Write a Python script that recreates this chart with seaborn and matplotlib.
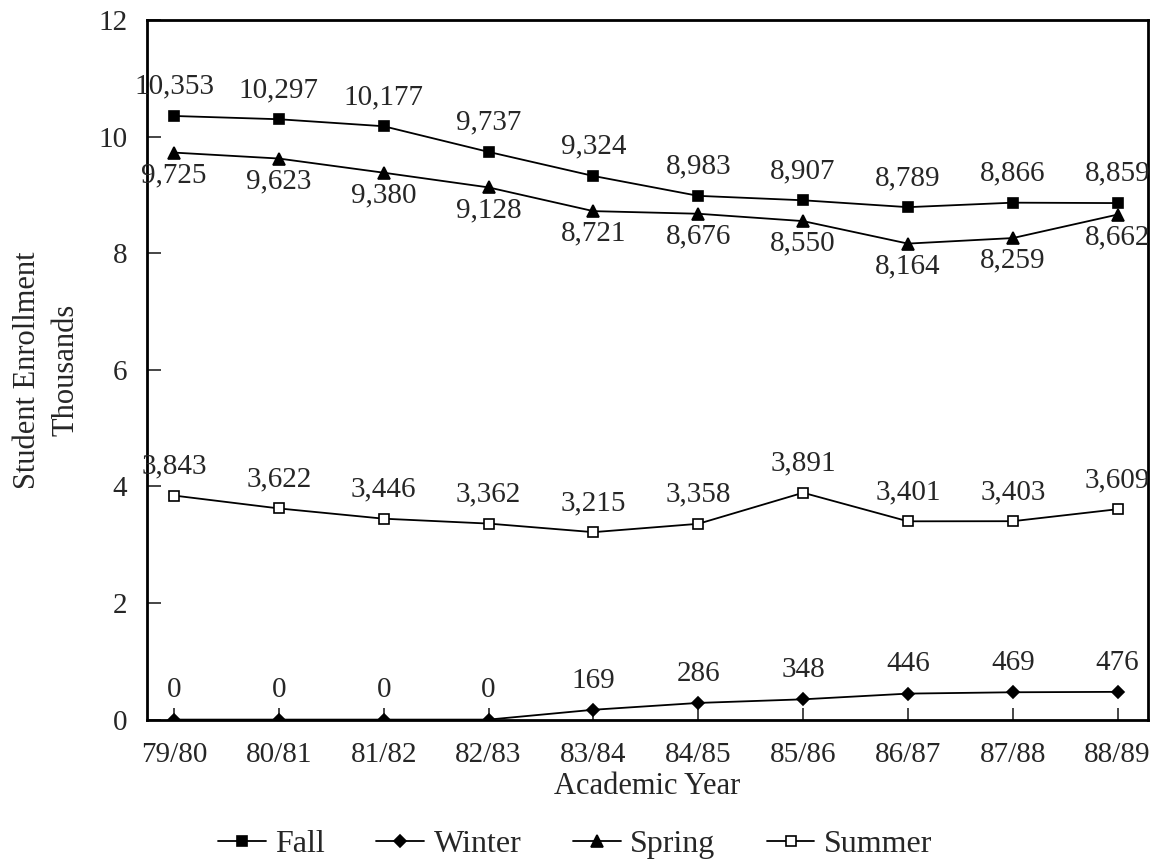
import pandas as pd
import matplotlib
matplotlib.use("Agg")
import matplotlib.pyplot as plt
import seaborn as sns

years = ["79/80", "80/81", "81/82", "82/83", "83/84", "84/85", "85/86", "86/87", "87/88", "88/89"]
fall = [10353, 10297, 10177, 9737, 9324, 8983, 8907, 8789, 8866, 8859]
winter = [0, 0, 0, 0, 169, 286, 348, 446, 469, 476]
spring = [9725, 9623, 9380, 9128, 8721, 8676, 8550, 8164, 8259, 8662]
summer = [3843, 3622, 3446, 3362, 3215, 3358, 3891, 3401, 3403, 3609]

series = {"Fall": fall, "Winter": winter, "Spring": spring, "Summer": summer}
rows = []
for name, vals in series.items():
    for i, v in enumerate(vals):
        rows.append({"season": name, "x": i, "year": years[i], "value": v, "k": v / 1000})
df = pd.DataFrame(rows)

sns.set_style("white")
plt.rcParams["font.family"] = ["Liberation Serif", "DejaVu Serif"]

fig, ax = plt.subplots(figsize=(11.55, 8.67), dpi=100)
fig.subplots_adjust(left=0.127, right=0.994, top=0.977, bottom=0.170)

markers = {"Fall": "s", "Winter": "D", "Spring": "^", "Summer": "s"}
sizes = {"Fall": 7, "Winter": 6.5, "Spring": 8, "Summer": 6.5}
faces = {"Fall": "black", "Winter": "black", "Spring": "black", "Summer": "white"}

for name in series:
    sub = df[df["season"] == name]
    sns.lineplot(data=sub, x="x", y="k", ax=ax, color="black", lw=1.3,
                 marker=markers[name], markersize=sizes[name],
                 markerfacecolor=faces[name], markeredgecolor="black",
                 markeredgewidth=1.2, label=name, legend=False)

# value labels: above for Fall/Winter/Summer, below for Spring
for name, vals in series.items():
    for i, v in enumerate(vals):
        if name == "Spring":
            ax.annotate(f"{v:,}", (i, v / 1000), xytext=(0, -7), textcoords="offset points",
                        ha="center", va="top", fontsize=21)
        else:
            ax.annotate(f"{v:,}", (i, v / 1000), xytext=(0, 16), textcoords="offset points",
                        ha="center", va="baseline", fontsize=21)

ax.set_xlim(-0.26, 9.29)
ax.set_ylim(0, 12)
ax.set_yticks([0, 2, 4, 6, 8, 10, 12])
ax.set_xticks(range(len(years)))
ax.set_xticklabels(years)
ax.tick_params(axis="both", direction="in", width=1.2, labelsize=21,
               left=True, bottom=True)
ax.tick_params(axis="y", length=10, pad=14)
ax.tick_params(axis="x", length=9, pad=16)
for s in ax.spines.values():
    s.set_linewidth(2.0)
    s.set_color("black")

ax.set_xlabel("Academic Year", fontsize=22, labelpad=3)
ax.set_ylabel("Student Enrollment\nThousands", fontsize=22, linespacing=1.4, labelpad=13)

handles, labels = ax.get_legend_handles_labels()
fig.legend(handles, labels, loc="center", bbox_to_anchor=(0.498, 0.026), ncol=4,
           frameon=False, fontsize=23, handlelength=1.5, columnspacing=1.6,
           handletextpad=0.3)

fig.savefig("out.png", dpi=100)
